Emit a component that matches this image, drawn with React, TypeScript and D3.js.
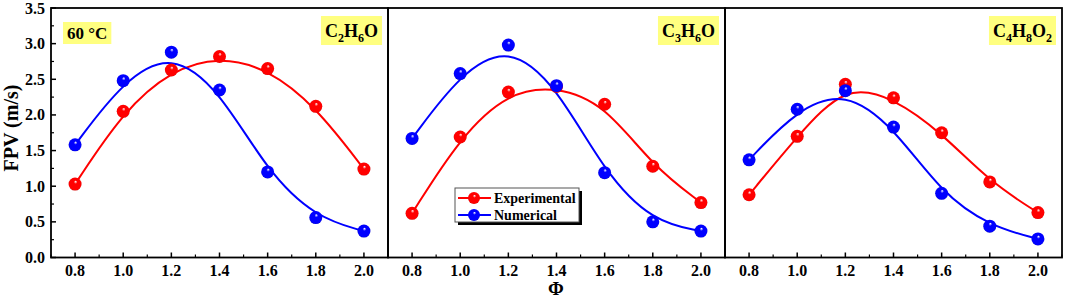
import React, { useEffect, useRef } from "react";
import * as d3 from "d3";

const phi = [0.8, 1.0, 1.2, 1.4, 1.6, 1.8, 2.0];
const panelLabels = ["C2H6O", "C3H6O", "C4H8O2"];
const expC2H6O = [1.03, 2.05, 2.63, 2.82, 2.65, 2.12, 1.24];
const numC2H6O = [1.58, 2.48, 2.88, 2.35, 1.2, 0.56, 0.37];
const expC3H6O = [0.62, 1.69, 2.32, 2.4, 2.15, 1.28, 0.77];
const numC3H6O = [1.67, 2.58, 2.98, 2.41, 1.19, 0.5, 0.37];
const expC4H8O2 = [0.88, 1.7, 2.43, 2.24, 1.75, 1.06, 0.63];
const numC4H8O2 = [1.37, 2.08, 2.34, 1.83, 0.9, 0.44, 0.26];
const xTicks = [0.8, 1.0, 1.2, 1.4, 1.6, 1.8, 2.0];
const yTicks = [0, 0.5, 1.0, 1.5, 2.0, 2.5, 3.0, 3.5];
const seriesNames = ["Experimental", "Numerical"];
const tempLabel = "60 °C";

const RED = "#ff0000";
const BLUE = "#0000ff";
const FONT = "'Liberation Serif', 'Times New Roman', serif";

export default function App() {
  const ref = useRef<SVGSVGElement>(null);

  useEffect(() => {
    const svg = d3.select(ref.current);
    svg.selectAll("*").remove();

    const defs = svg.append("defs");
    const mkGrad = (id: string, c: string, dark: string) => {
      const g = defs.append("radialGradient").attr("id", id)
        .attr("cx", "0.5").attr("cy", "0.5").attr("r", "0.55")
        .attr("fx", "0.55").attr("fy", "0.3");
      g.append("stop").attr("offset", "0").attr("stop-color", "#ffffff");
      g.append("stop").attr("offset", "0.25").attr("stop-color", c);
      g.append("stop").attr("offset", "0.85").attr("stop-color", c);
      g.append("stop").attr("offset", "1").attr("stop-color", dark);
    };
    mkGrad("gRed", RED, "#b00000");
    mkGrad("gBlue", BLUE, "#0000a0");

    const top = 8, bottom = 257.5;
    const panelX = [51, 388, 725];
    const panelW = 337;
    const y = d3.scaleLinear().domain([0, 3.5]).range([bottom, top]);
    const data = [
      [expC2H6O, numC2H6O],
      [expC3H6O, numC3H6O],
      [expC4H8O2, numC4H8O2],
    ];
    const colors = [RED, BLUE];
    const grads = ["url(#gRed)", "url(#gBlue)"];

    data.forEach((pair, pi) => {
      const x = d3.scaleLinear().domain([0.7, 2.1]).range([panelX[pi], panelX[pi] + panelW]);
      const g = svg.append("g");

      const minor = d3.range(0.7, 2.1001, 0.1).filter((v) => !xTicks.some((t) => Math.abs(t - v) < 1e-6));
      xTicks.forEach((t) => {
        g.append("line").attr("x1", x(t)).attr("x2", x(t)).attr("y1", bottom).attr("y2", bottom - 5)
          .attr("stroke", "#000").attr("stroke-width", 1.5);
        g.append("text").attr("x", x(t)).attr("y", 276).attr("text-anchor", "middle")
          .attr("font-family", FONT).attr("font-weight", "bold").attr("font-size", 16)
          .text(t.toFixed(1));
      });
      minor.forEach((t) => {
        g.append("line").attr("x1", x(t)).attr("x2", x(t)).attr("y1", bottom).attr("y2", bottom - 3)
          .attr("stroke", "#000").attr("stroke-width", 1.2);
      });

      // B-spline curves through data as control points
      pair.forEach((vals, si) => {
        const line = d3.line<number>().x((_, i) => x(phi[i])).y((d) => y(d)).curve(d3.curveBasis);
        g.append("path").attr("d", line(vals)).attr("fill", "none")
          .attr("stroke", colors[si]).attr("stroke-width", 2);
      });
      pair.forEach((vals, si) => {
        vals.forEach((v, i) => {
          g.append("circle").attr("cx", x(phi[i])).attr("cy", y(v)).attr("r", 6.5)
            .attr("fill", grads[si]);
        });
      });

      g.append("rect").attr("x", panelX[pi]).attr("y", top).attr("width", panelW)
        .attr("height", bottom - top).attr("fill", "none").attr("stroke", "#000").attr("stroke-width", 1.8);

      // formula label
      const lab = panelLabels[pi];
      const bx1 = panelX[pi] + panelW - 6;
      const tg = g.append("g");
      const txt = tg.append("text").attr("x", bx1 - 4).attr("y", 37).attr("text-anchor", "end")
        .attr("font-family", FONT).attr("font-weight", "bold").attr("font-size", 18);
      const parts = lab.match(/[A-Z][a-z]?|\d+/g) || [];
      let sub = false;
      parts.forEach((p) => {
        if (/\d/.test(p)) {
          txt.append("tspan").attr("font-size", 12).attr("dy", sub ? 0 : 5).text(p);
          sub = true;
        } else {
          txt.append("tspan").attr("dy", sub ? -5 : 0).text(p);
          sub = false;
        }
      });
      const bb = (txt.node() as SVGTextElement).getBBox();
      tg.insert("rect", "text").attr("x", bb.x - 4).attr("y", 16).attr("width", bb.width + 8)
        .attr("height", 29).attr("fill", "#ffff80");
    });

    // temperature label
    const tt = svg.append("g");
    const t = tt.append("text").attr("x", 67).attr("y", 39).attr("font-family", FONT)
      .attr("font-weight", "bold").attr("font-size", 17).text(tempLabel);
    const tb = (t.node() as SVGTextElement).getBBox();
    tt.insert("rect", "text").attr("x", tb.x - 4).attr("y", 22).attr("width", tb.width + 8)
      .attr("height", 22).attr("fill", "#ffff80");

    yTicks.forEach((v) => {
      svg.append("line").attr("x1", 51).attr("x2", 56).attr("y1", y(v)).attr("y2", y(v))
        .attr("stroke", "#000").attr("stroke-width", 1.5);
      svg.append("text").attr("x", 45).attr("y", y(v) + 5.5).attr("text-anchor", "end")
        .attr("font-family", FONT).attr("font-weight", "bold").attr("font-size", 16)
        .text(v.toFixed(1));
    });
    d3.range(0.25, 3.5, 0.5).forEach((v) => {
      svg.append("line").attr("x1", 51).attr("x2", 54).attr("y1", y(v)).attr("y2", y(v))
        .attr("stroke", "#000").attr("stroke-width", 1.2);
    });

    svg.append("text").attr("transform", "translate(18,128) rotate(-90)").attr("text-anchor", "middle")
      .attr("font-family", FONT).attr("font-weight", "bold").attr("font-size", 20).text("FPV (m/s)");
    svg.append("text").attr("x", 556).attr("y", 295).attr("text-anchor", "middle")
      .attr("font-family", FONT).attr("font-weight", "bold").attr("font-size", 19).text("Φ");

    // legend
    const lg = svg.append("g");
    lg.append("rect").attr("x", 458).attr("y", 191).attr("width", 124).attr("height", 34).attr("fill", "#000");
    lg.append("rect").attr("x", 455).attr("y", 188).attr("width", 124).attr("height", 34)
      .attr("fill", "#fff").attr("stroke", "#555").attr("stroke-width", 1);
    seriesNames.forEach((n, i) => {
      const ly = 198 + i * 17;
      lg.append("line").attr("x1", 458).attr("x2", 491).attr("y1", ly).attr("y2", ly)
        .attr("stroke", colors[i]).attr("stroke-width", 2);
      lg.append("circle").attr("cx", 474).attr("cy", ly).attr("r", 6).attr("fill", grads[i]);
      lg.append("text").attr("x", 494).attr("y", ly + 5).attr("font-family", FONT)
        .attr("font-weight", "bold").attr("font-size", 14).text(n);
    });
  }, []);

  return (
    <svg ref={ref} width={1065} height={299}
      style={{ position: "absolute", left: 0, top: 0, background: "#fff" }} />
  );
}
